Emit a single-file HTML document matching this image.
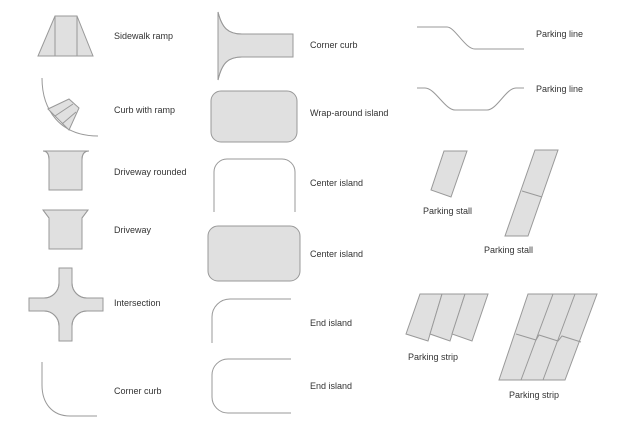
<!DOCTYPE html>
<html><head><meta charset="utf-8"><style>
html,body{margin:0;padding:0;background:#fff;}
svg{display:block}
text{font-family:"Liberation Sans",sans-serif;font-size:9px;fill:#333;}
.f{fill:#e0e0e0;stroke:#999;stroke-width:1}
.l{fill:none;stroke:#999;stroke-width:1}
</style></head><body>
<svg width="640" height="426" viewBox="0 0 640 426">
<!-- Sidewalk ramp -->
<path class="f" d="M55,16 L77,16 L93,56 L38,56 Z"/>
<path class="l" d="M55,16 V56 M77,16 V56"/>
<text x="114" y="39">Sidewalk ramp</text>
<!-- Curb with ramp -->
<path class="l" d="M42,78 C42,110 60,136 98,136"/>
<path class="f" d="M48,109 L69,99 L79,108 L69,130 Z"/>
<path class="l" d="M55,116 L73,104 M62,124 L76,112"/>
<text x="114" y="113">Curb with ramp</text>
<!-- Driveway rounded -->
<path class="f" d="M43,151 Q49,151 49,160 V190 H82 V160 Q82,151 89,151 Z" stroke="none"/>
<path class="l" d="M43,151 Q49,151 49,160 V190 M89,151 Q82,151 82,160 V190"/>
<text x="114" y="175">Driveway rounded</text>
<!-- Driveway -->
<path class="f" d="M43,210 L49,218 V249 H82 V218 L88,210 Z" stroke="none"/>
<path class="l" d="M43,210 L49,218 V249 M88,210 L82,218 V249"/>
<text x="114" y="233">Driveway</text>
<!-- Intersection -->
<path class="f" stroke="none" d="M59,268 H72 V283 A15,15 0 0 0 87,298 H103 V311 H87 A15,15 0 0 0 72,326 V341 H59 V326 A15,15 0 0 0 44,311 H29 V298 H44 A15,15 0 0 0 59,283 Z"/>
<path class="l" d="M59,268 V283 A15,15 0 0 1 44,298 H29 M72,268 V283 A15,15 0 0 0 87,298 H103 M29,311 H44 A15,15 0 0 1 59,326 V341 M103,311 H87 A15,15 0 0 0 72,326 V341"/>
<text x="114" y="306">Intersection</text>
<!-- Corner curb left -->
<path class="l" d="M42,362 V385 C42,403 52,416 70,416 H97"/>
<text x="114" y="394">Corner curb</text>

<!-- Corner curb middle -->
<path class="f" stroke="none" d="M218,12 C222,28 228,34 242,34 H293 V57 H242 C228,57 222,63 218,80 Z"/>
<path class="l" d="M218,12 C222,28 228,34 242,34 H293 M293,57 H242 C228,57 222,63 218,80"/>
<text x="310" y="48">Corner curb</text>
<!-- Wrap-around island -->
<rect class="f" x="211" y="91" width="86" height="51" rx="10"/>
<text x="310" y="116">Wrap-around island</text>
<!-- Center island open -->
<path class="l" d="M214,212 V172 A13,13 0 0 1 227,159 H282 A13,13 0 0 1 295,172 V212"/>
<text x="310" y="186">Center island</text>
<!-- Center island filled -->
<rect class="f" x="208" y="226" width="92" height="55" rx="10"/>
<text x="310" y="257">Center island</text>
<!-- End island 1 -->
<path class="l" d="M291,299 H230 A18,18 0 0 0 212,317 V343"/>
<text x="310" y="326">End island</text>
<!-- End island 2 -->
<path class="l" d="M291,359 H228 A16,16 0 0 0 212,375 V397 A16,16 0 0 0 228,413 H291"/>
<text x="310" y="389">End island</text>

<!-- Parking lines -->
<path class="l" d="M417,27 H447 C455,27 465,49 475,49 H524"/>
<text x="536" y="37">Parking line</text>
<path class="l" d="M417,88 H425 C435,88 445,110 455,110 H487 C497,110 506,88 516,88 H524"/>
<text x="536" y="92">Parking line</text>
<!-- Parking stalls -->
<path class="f" d="M444,151 L467,151 L451,197 L431,190 Z"/>
<text x="423" y="214">Parking stall</text>
<path class="f" d="M535,150 L558,150 L528,236 L505,236 Z"/>
<path class="l" d="M522,191 L542,197" stroke="#888"/>
<text x="484" y="253">Parking stall</text>
<!-- Parking strip 1 -->
<path class="f" d="M420,294 L442,294 L428,341 L406,334 Z"/>
<path class="f" d="M442,294 L465,294 L450,341 L430,334 Z"/>
<path class="f" d="M465,294 L488,294 L472,341 L452,334 Z"/>
<text x="408" y="360">Parking strip</text>
<!-- Parking strip 2 -->
<path class="f" d="M528,294 L597,294 L565,380 L499,380 Z"/>
<path class="l" d="M553,294 L521,380 M575,294 L543,380" />
<path class="l" d="M516,334 L536,340 L539,335 L558,341 L562,336 L581,342" stroke="#888"/>
<text x="509" y="398">Parking strip</text>
</svg>
</body></html>
